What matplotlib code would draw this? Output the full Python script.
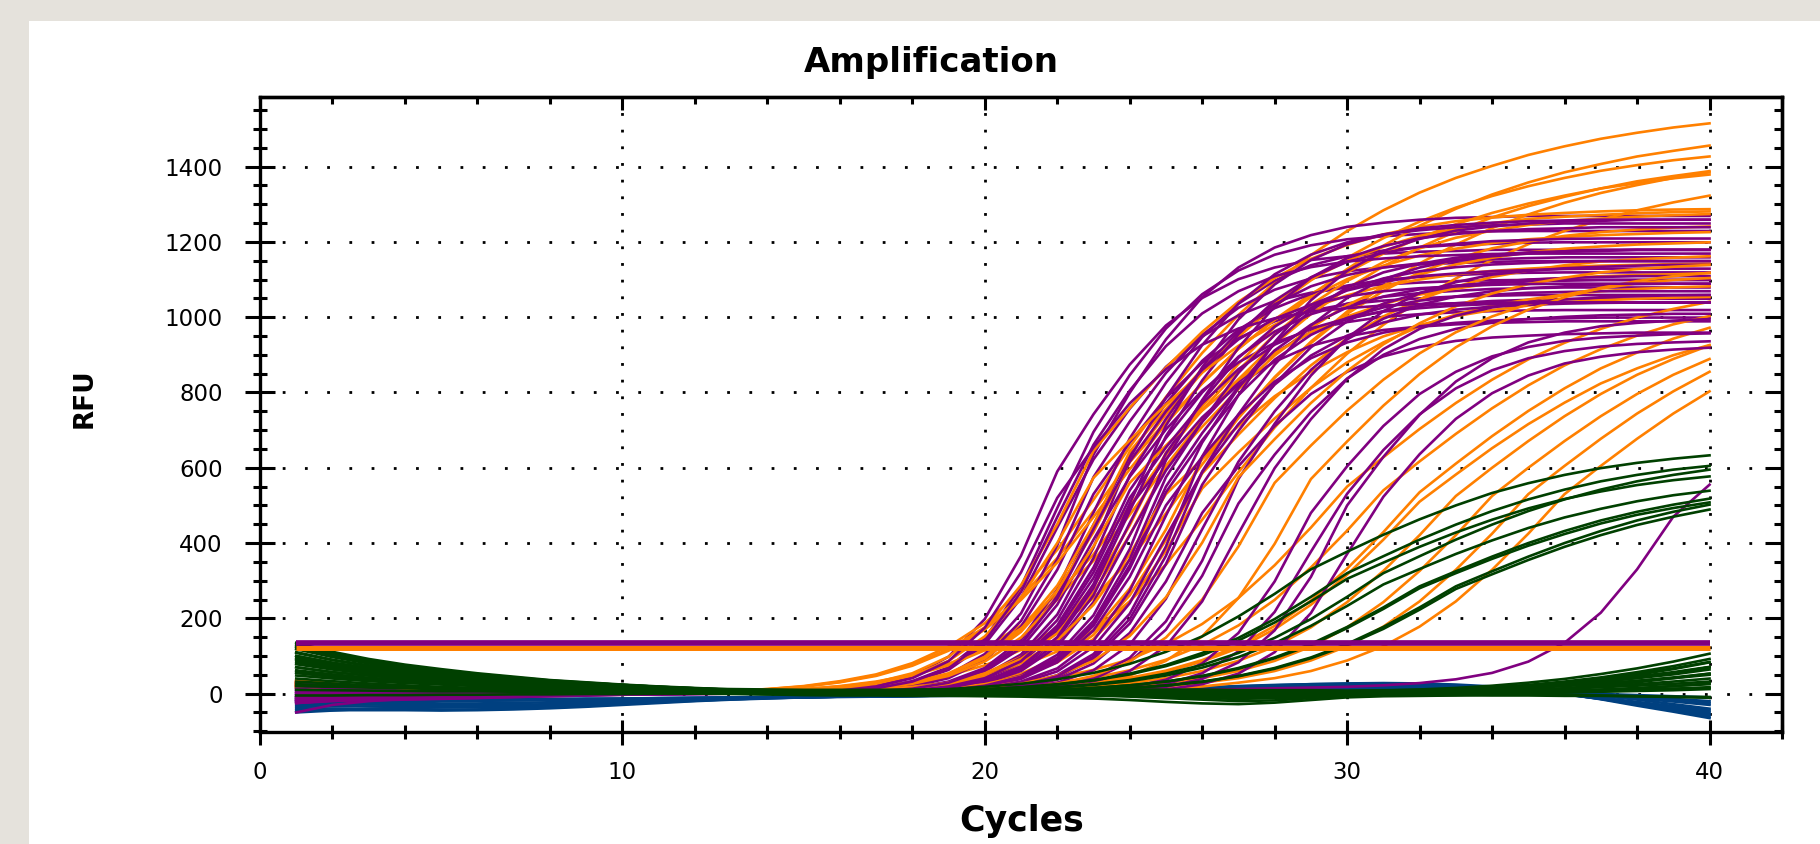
import matplotlib
matplotlib.use("Agg")
import matplotlib.pyplot as plt
from matplotlib.patches import Rectangle
from matplotlib.ticker import MultipleLocator, NullFormatter

plt.rcParams['font.family'] = ['DejaVu Sans']

# ---------------- data ----------------
cycles = list(range(1, 41))

threshold_purple = 135
threshold_orange = 121

purple_curves = [
    [15,10,7,4,2,0,0,0,0,0,0,0,0,2,5,9,21,46,98,198,366,590,742,874,978,1051,1101,1132,1152,1162,1169,1174,1176,1179,1179,1179,1179,1179,1179,1179],
    [-20,-14,-9,-5,-2,0,0,0,0,0,0,0,0,1,4,7,15,33,70,146,284,493,695,846,970,1061,1124,1166,1191,1207,1215,1221,1225,1228,1229,1229,1229,1229,1229,1229],
    [25,18,11,6,3,0,0,0,0,0,0,0,0,1,3,6,13,30,63,131,254,441,622,757,868,949,1005,1043,1065,1079,1087,1092,1096,1098,1099,1099,1099,1099,1099,1099],
    [-15,-14,-13,-12,-10,-8,-6,-4,-2,-1,0,0,0,0,3,5,10,23,50,105,213,394,635,799,941,1053,1132,1185,1218,1240,1251,1259,1264,1266,1269,1269,1269,1269,1269,1269],
    [5,3,2,1,0,0,0,0,0,0,0,0,0,0,2,4,8,19,41,88,178,329,530,667,785,879,944,989,1017,1035,1044,1050,1055,1057,1059,1059,1059,1059,1059,1059],
    [-10,-7,-4,-2,0,0,0,0,0,0,0,0,0,0,2,5,9,21,45,95,193,357,575,723,852,953,1025,1073,1103,1122,1133,1140,1144,1147,1149,1149,1149,1149,1149,1149],
    [30,21,13,7,3,0,0,0,0,0,0,0,0,0,1,4,7,14,32,68,143,277,481,678,826,947,1036,1097,1138,1162,1177,1186,1192,1195,1198,1199,1199,1199,1199,1199],
    [-18,-17,-16,-15,-13,-11,-9,-7,-5,-3,-2,-1,0,0,1,3,6,12,28,58,121,236,409,576,702,805,880,932,967,987,1001,1008,1013,1016,1018,1019,1019,1019,1019,1019],
    [0,0,0,0,0,0,0,0,0,0,0,0,0,0,1,3,6,13,30,64,133,259,449,633,771,884,967,1024,1062,1084,1099,1107,1112,1116,1118,1119,1119,1119,1119,1119],
    [-20,-19,-18,-16,-14,-12,-9,-7,-5,-3,-2,-1,0,0,0,3,5,10,23,49,104,210,388,625,786,926,1036,1114,1166,1199,1220,1231,1239,1244,1246,1249,1249,1249,1249,1249],
    [10,7,4,2,1,0,0,0,0,0,0,0,0,0,0,2,4,9,19,42,90,181,335,540,679,800,895,962,1008,1036,1054,1064,1070,1075,1077,1079,1079,1079,1079,1079],
    [-15,-10,-6,-3,-1,0,0,0,0,0,0,0,0,0,0,2,4,8,18,39,82,166,307,495,623,734,821,882,924,949,966,975,981,985,987,989,989,989,989,989],
    [20,14,9,5,2,0,0,0,0,0,0,0,0,0,0,2,5,9,21,45,96,195,360,580,730,860,962,1034,1082,1112,1132,1143,1150,1154,1157,1159,1159,1159,1159,1159],
    [-25,-18,-11,-6,-2,0,0,0,0,0,0,0,0,0,0,1,4,7,15,33,69,144,280,485,684,832,955,1044,1106,1147,1171,1187,1195,1202,1205,1208,1209,1209,1209,1209],
    [35,25,16,9,4,1,0,0,0,0,0,0,0,0,0,1,3,6,13,28,60,125,243,421,593,722,828,906,960,995,1016,1030,1037,1043,1046,1048,1049,1049,1049,1049],
    [-5,-3,-2,-1,0,0,0,0,0,0,0,0,0,0,0,1,3,6,14,31,64,134,261,453,638,777,892,975,1033,1071,1094,1109,1116,1122,1125,1128,1129,1129,1129,1129],
    [15,10,7,4,2,0,0,0,0,0,0,0,0,0,0,0,2,4,9,20,43,91,185,341,550,692,815,912,980,1026,1055,1074,1084,1090,1095,1097,1099,1099,1099,1099],
    [-10,-9,-9,-8,-7,-6,-5,-4,-3,-2,-1,0,0,0,0,0,2,5,10,22,48,103,208,384,620,780,919,1028,1105,1157,1189,1210,1221,1229,1234,1236,1239,1239,1239,1239],
    [5,3,2,1,0,0,0,0,0,0,0,0,0,0,0,0,2,4,8,18,39,83,168,310,500,629,741,829,891,933,959,976,985,991,995,997,999,999,999,999],
    [-50,-30,-20,-14,-10,-7,-5,-3,-2,-1,0,0,0,0,0,0,2,4,9,19,42,89,180,332,535,673,793,887,953,998,1026,1044,1054,1060,1065,1067,1069,1069,1069,1069],
    [10,7,4,2,1,0,0,0,0,0,0,0,0,0,0,0,1,4,6,14,32,67,140,273,473,667,812,931,1018,1079,1119,1142,1158,1166,1172,1175,1178,1179,1179,1179],
    [-20,-14,-9,-5,-2,0,0,0,0,0,0,0,0,0,0,0,1,3,6,12,28,59,124,240,417,588,716,821,898,951,986,1007,1020,1028,1033,1036,1038,1039,1039,1039],
    [25,18,11,6,3,0,0,0,0,0,0,0,0,0,0,0,0,2,4,9,20,43,92,186,344,555,698,823,920,989,1036,1064,1083,1093,1100,1104,1107,1109,1109,1109],
    [-10,-7,-4,-2,0,0,0,0,0,0,0,0,0,0,0,0,0,2,4,8,17,37,80,161,298,480,604,711,796,855,896,921,937,946,951,955,957,959,959,959],
    [0,0,0,0,0,0,0,0,0,0,0,0,0,0,0,0,0,3,5,10,23,49,105,212,391,630,793,934,1045,1123,1176,1208,1230,1241,1249,1254,1256,1259,1259,1259],
    [-5,-5,-5,-4,-4,-3,-3,-2,-2,-1,-1,0,0,0,0,0,0,1,3,6,13,29,62,130,252,437,616,750,860,941,996,1033,1055,1069,1077,1082,1086,1088,1089,1089],
    [15,10,7,4,2,0,0,0,0,0,0,0,0,0,0,0,0,0,2,5,9,21,44,95,192,353,570,717,845,945,1016,1064,1093,1113,1123,1130,1134,1137,1139,1139],
    [-12,-12,-11,-10,-9,-8,-6,-5,-4,-3,-2,-1,0,0,0,0,0,0,2,4,8,18,39,84,170,313,505,635,748,837,900,942,969,986,995,1001,1005,1007,1009,1009],
    [5,3,2,1,0,0,0,0,0,0,0,0,0,0,0,0,0,0,1,3,6,13,29,60,126,245,425,599,729,836,915,969,1004,1026,1040,1047,1053,1056,1058,1059],
    [-15,-10,-6,-3,-1,0,0,0,0,0,0,0,0,2,4,8,19,41,86,175,322,520,654,771,862,927,970,997,1015,1024,1031,1035,1037,1039,1039,1039,1039,1039,1039,1039],
    [0,0,0,0,0,0,0,0,0,0,0,0,0,0,0,1,4,7,15,34,72,150,291,505,712,867,994,1087,1152,1194,1219,1236,1245,1251,1255,1257,1259,1259,1259,1259],
    [-25,-18,-11,-6,-2,0,0,0,0,0,0,0,0,0,0,0,2,5,9,21,45,95,193,357,575,723,852,953,1025,1073,1103,1122,1133,1140,1144,1147,1149,1149,1149,1149],
    [20,14,9,5,2,0,0,0,0,0,0,0,0,0,1,3,6,13,29,62,130,252,437,616,750,860,941,996,1033,1055,1069,1077,1082,1086,1088,1089,1089,1089,1089,1089],
    [-5,-3,-2,-1,0,0,0,0,0,0,0,0,0,0,0,0,0,2,5,9,21,46,98,198,366,590,742,874,978,1051,1101,1132,1152,1162,1169,1174,1176,1179,1179,1179],
    [30,21,13,7,3,0,0,0,0,0,0,0,0,0,0,2,4,8,19,41,86,175,322,520,654,771,862,927,970,997,1015,1024,1031,1035,1037,1039,1039,1039,1039,1039],
    [-25,-20,-16,-13,-10,-8,-6,-4,-3,-2,-1,0,0,1,4,6,14,32,67,139,270,469,661,805,923,1010,1069,1109,1133,1148,1156,1162,1165,1168,1169,1169,1169,1169,1169,1169],
    [-10,-7,-4,-2,0,0,0,0,0,0,0,0,0,0,0,0,0,0,0,0,2,4,8,17,37,80,161,298,480,604,711,796,855,896,921,937,946,951,955,957],
    [10,7,4,2,1,0,0,0,0,0,0,0,0,0,0,0,0,0,0,0,1,3,5,11,25,54,112,217,377,531,647,742,811,859,891,910,922,929,933,936],
    [-20,-14,-9,-5,-2,0,0,0,0,0,0,0,0,0,0,0,0,0,0,0,0,2,4,8,18,39,83,168,310,500,629,741,829,891,933,959,976,985,991,995],
    [0,0,0,0,0,0,0,0,0,0,0,0,0,0,0,0,0,0,0,0,0,1,3,5,11,25,53,110,214,371,523,636,730,798,845,877,895,907,914,919],
    [-8,-7,-6,-5,-4,-3,-2,-2,-1,-1,0,0,0,0,0,0,0,0,0,0,2,3,4,6,8,10,12,14,16,18,22,28,38,55,85,135,215,330,470,555],
]

orange_curves = [
    [30,22,15,9,5,2,0,0,0,2,3,5,8,12,20,33,51,81,125,187,273,382,515,655,788,905,1006,1092,1165,1229,1284,1331,1370,1402,1431,1454,1474,1490,1504,1515],
    [25,18,12,7,4,2,0,0,0,0,2,3,5,8,12,20,32,50,79,121,181,264,370,498,634,763,876,974,1057,1128,1190,1243,1288,1326,1358,1385,1407,1427,1442,1456],
    [20,14,9,5,3,1,0,0,0,1,2,4,7,12,19,31,49,76,118,176,257,360,485,617,742,853,948,1029,1098,1158,1210,1254,1291,1322,1348,1370,1389,1404,1417,1427],
    [35,26,18,11,6,3,1,0,0,0,1,2,3,4,7,12,19,30,48,75,116,174,254,355,479,609,732,841,935,1015,1083,1143,1193,1237,1273,1304,1330,1351,1370,1385],
    [25,18,12,7,4,2,0,0,0,0,1,2,4,7,12,19,30,48,75,115,173,252,353,475,605,727,835,929,1008,1076,1135,1185,1228,1265,1295,1320,1342,1361,1375,1388],
    [20,14,9,5,3,1,0,0,0,0,1,2,2,3,4,7,11,18,29,46,73,112,168,245,343,462,588,707,812,903,980,1046,1103,1152,1194,1229,1259,1284,1305,1323],
    [30,22,15,9,5,2,0,0,0,1,2,4,7,11,18,30,47,74,114,170,249,348,469,596,717,824,916,994,1061,1119,1169,1211,1247,1277,1302,1323,1342,1356,1369,1379],
    [30,22,15,9,5,2,0,0,0,0,1,2,3,5,9,16,30,54,98,172,288,450,645,759,866,961,1041,1104,1155,1192,1220,1240,1255,1265,1272,1277,1281,1284,1286,1287],
    [15,10,7,4,2,0,0,0,0,0,1,1,2,3,5,9,16,30,54,98,171,287,448,643,756,862,957,1037,1100,1150,1187,1216,1235,1250,1261,1267,1272,1276,1279,1281],
    [35,26,18,11,6,3,1,0,0,0,1,2,2,2,3,5,9,16,29,54,97,170,285,447,640,753,859,954,1033,1096,1146,1183,1211,1230,1245,1256,1262,1267,1271,1274],
    [20,14,9,5,3,1,0,0,0,0,1,1,2,2,3,3,5,8,16,29,53,95,166,279,436,625,735,839,931,1009,1070,1119,1155,1183,1201,1216,1226,1233,1238,1241],
    [25,18,12,7,4,2,0,0,0,0,1,1,2,2,4,8,15,28,52,93,164,274,429,615,723,825,916,993,1053,1101,1137,1164,1182,1197,1207,1213,1218,1221,1224,1226],
    [30,22,15,9,5,2,0,0,0,0,1,1,2,2,2,4,8,15,28,51,92,160,269,421,603,709,809,898,972,1032,1078,1113,1140,1158,1172,1182,1188,1193,1196,1199],
    [20,14,9,5,3,1,0,0,0,0,1,1,2,2,2,2,4,8,15,27,49,89,156,261,408,585,688,785,872,944,1002,1047,1081,1107,1124,1138,1148,1154,1158,1162],
    [30,22,15,9,5,2,0,0,0,0,1,1,2,4,8,14,26,48,87,152,255,400,573,673,768,853,924,980,1024,1058,1083,1100,1114,1123,1129,1134,1137,1139,1141,1142],
    [25,18,12,7,4,2,0,0,0,0,1,1,2,2,4,8,14,26,47,85,149,250,391,560,659,752,834,904,960,1002,1035,1060,1076,1090,1099,1104,1109,1112,1114,1117],
    [20,14,9,5,3,1,0,0,0,0,1,1,2,2,2,4,7,13,24,45,81,141,236,370,530,623,711,790,855,907,949,979,1003,1019,1031,1040,1045,1049,1052,1054],
    [35,26,18,11,6,3,1,0,0,0,1,1,2,2,2,2,4,7,14,25,46,83,145,243,380,545,641,731,812,880,933,976,1007,1031,1047,1060,1069,1075,1079,1082],
    [25,18,12,7,4,2,0,0,0,0,1,1,2,2,2,4,6,9,13,20,30,43,63,91,131,185,254,341,441,550,628,703,772,834,888,932,969,999,1022,1041],
    [30,22,15,9,5,2,0,0,0,0,1,1,2,2,2,2,4,6,9,13,19,29,42,62,90,129,181,249,335,433,540,617,690,758,819,872,915,951,981,1003],
    [20,14,9,5,3,1,0,0,0,0,1,1,2,2,2,2,2,4,6,9,13,19,29,42,61,89,127,180,247,332,429,535,611,684,751,811,864,906,943,972],
    [35,26,18,11,6,3,1,0,0,0,1,1,2,2,2,2,2,4,6,8,12,18,28,40,58,85,121,171,236,316,409,510,582,652,716,773,824,864,899,926],
    [25,18,12,7,4,2,0,0,0,0,1,1,2,2,2,2,2,2,4,6,8,13,19,28,41,60,87,125,176,243,326,421,525,600,671,737,796,847,889,925],
    [15,10,7,4,2,0,0,0,0,0,1,1,2,2,2,2,2,2,2,4,6,8,13,19,28,41,60,87,125,176,243,326,421,525,600,671,737,796,847,889],
    [30,22,15,9,5,2,0,0,0,0,1,1,2,2,2,2,2,2,2,2,4,6,8,13,19,29,41,60,88,126,178,245,329,425,530,605,677,744,803,855],
    [20,14,9,5,3,1,0,0,0,0,1,1,2,2,2,2,2,2,2,2,2,4,6,8,13,19,29,41,60,88,126,178,245,329,425,530,605,677,744,803],
    [25,18,12,7,4,2,0,0,0,0,1,1,2,2,2,2,2,4,8,14,26,48,87,153,256,401,575,676,772,857,928,984,1029,1063,1088,1105,1119,1128,1134,1139],
    [30,22,15,9,5,2,0,0,0,0,1,1,2,2,2,2,2,2,4,8,14,26,47,85,149,250,391,560,659,752,834,904,960,1002,1035,1060,1076,1090,1099,1104],
    [20,14,9,5,3,1,0,0,0,0,1,1,2,2,2,2,2,2,2,4,8,14,26,48,87,152,254,398,570,670,765,849,920,976,1020,1053,1078,1096,1109,1118],
]

green_amp_curves = [
    [110,90,75,63,53,44,36,30,24,20,15,12,9,6,5,6,6,8,12,18,26,38,55,79,111,152,205,265,330,377,422,463,500,533,559,581,599,613,624,633],
    [90,74,61,51,43,36,30,24,20,16,13,10,7,5,3,4,5,6,8,12,17,25,36,53,76,108,148,198,257,320,365,409,449,485,516,542,564,581,595,605],
    [70,57,48,40,34,28,23,19,15,13,10,8,6,4,2,3,4,5,7,11,16,24,35,51,73,102,141,189,245,305,348,390,428,462,492,517,537,554,567,577],
    [125,103,85,71,60,50,41,34,28,23,18,14,10,6,4,3,2,4,5,8,12,17,25,36,53,76,108,148,198,257,320,365,409,449,485,516,542,564,581,595],
    [55,45,37,31,26,22,18,15,12,10,8,6,4,3,2,2,2,3,5,7,10,16,23,33,48,69,97,134,180,233,290,331,371,407,440,468,491,511,527,539],
    [100,82,68,57,48,40,33,27,22,18,14,11,8,5,3,2,2,2,3,5,7,10,15,22,32,47,68,96,132,177,229,285,325,364,400,432,460,483,502,518],
    [80,66,54,46,38,32,26,22,18,14,11,9,6,4,3,2,2,2,3,5,7,10,15,22,32,46,66,94,129,174,225,280,320,358,393,424,452,475,493,508],
    [60,49,41,34,29,24,20,16,13,11,8,7,5,3,2,2,2,2,2,3,5,7,10,15,22,32,47,68,96,132,177,229,285,325,364,400,432,460,483,502],
    [130,107,88,74,62,52,43,35,29,23,18,14,10,7,4,3,2,2,2,3,5,7,10,15,21,31,46,66,94,129,172,223,278,317,355,390,421,448,470,489],
]

green_base_curves = [
    [135,111,92,77,65,54,45,36,30,24,19,15,11,7,5,4,4,3,3,3,2,2,2,3,3,4,4,5,5,6,8,11,15,21,29,39,52,67,85,106],
    [125,103,85,71,60,50,41,34,28,23,18,14,10,6,4,3,2,2,1,1,1,0,0,0,1,1,2,2,2,2,4,7,10,16,23,32,43,57,73,92],
    [118,97,80,67,57,47,39,32,26,21,17,13,9,6,6,6,6,5,5,5,6,6,7,7,6,5,3,1,2,4,6,8,11,16,22,30,41,53,67,84],
    [108,89,73,62,52,43,36,29,24,19,15,12,9,5,3,2,1,0,0,-1,-2,-3,-5,-8,-12,-16,-20,-18,-12,-6,-1,2,4,9,15,22,31,42,55,70],
    [100,82,68,57,48,40,33,27,22,18,14,11,9,8,8,8,8,9,9,9,8,8,8,9,10,10,9,8,7,6,7,9,12,16,21,27,36,46,57,71],
    [92,75,63,52,44,37,30,25,20,16,12,9,5,1,-2,-3,-3,-4,-4,-4,-3,-3,-4,-6,-9,-12,-14,-12,-9,-6,-4,-2,0,4,8,14,22,30,41,53],
    [85,70,58,48,41,34,28,23,19,15,12,9,7,5,4,3,3,3,2,2,3,3,4,4,3,2,1,1,2,3,4,6,8,11,15,20,26,34,43,53],
    [78,64,53,45,38,32,27,23,20,17,15,13,12,11,10,10,10,11,11,12,12,12,11,11,10,10,9,9,9,8,9,10,12,14,18,22,27,34,41,50],
    [70,57,48,40,33,28,23,18,14,10,7,4,1,-2,-4,-5,-5,-6,-6,-7,-8,-10,-13,-17,-22,-26,-28,-24,-17,-10,-7,-6,-5,-3,0,4,8,13,20,27],
    [62,51,42,35,30,25,21,17,14,11,9,7,6,5,5,5,5,5,6,6,6,5,5,4,4,3,3,4,4,4,5,5,7,8,10,13,17,21,26,32],
    [55,45,37,31,26,22,18,15,12,9,7,5,3,2,1,0,0,-1,-1,-1,-2,-2,-3,-4,-6,-8,-9,-7,-5,-3,-3,-2,-1,0,2,4,6,9,13,17],
    [48,40,33,28,24,20,17,14,12,10,9,8,8,7,7,7,7,7,8,8,8,8,7,7,7,6,6,6,5,5,5,5,6,6,7,8,10,11,13,15],
    [40,33,27,22,18,15,12,9,6,4,2,0,-1,-2,-2,-2,-2,-2,-3,-3,-3,-3,-4,-6,-8,-10,-12,-10,-7,-4,-4,-4,-4,-5,-5,-6,-6,-7,-8,-9],
    [32,27,22,18,15,12,10,8,7,6,5,4,4,3,3,3,3,3,4,4,4,4,3,3,2,2,2,2,2,2,2,2,1,0,-1,-3,-5,-7,-9,-11],
    [120,99,82,68,58,48,40,32,26,21,16,12,9,6,5,4,4,4,3,3,3,4,4,4,5,5,5,4,4,4,5,7,9,13,18,24,32,41,51,64],
    [95,78,65,54,46,38,31,25,20,16,12,8,5,2,0,-1,-1,-1,-2,-2,-2,-3,-3,-4,-5,-6,-7,-6,-4,-2,0,2,6,11,18,26,37,50,65,83],
    [20,18,16,14,12,10,9,8,7,6,5,5,4,4,4,4,4,3,3,3,3,3,2,1,0,-2,-4,-3,-1,1,2,3,5,7,10,14,19,25,32,40],
    [10,9,8,7,6,6,5,5,4,4,3,3,3,2,2,2,2,2,2,1,1,1,0,-1,-3,-5,-7,-6,-4,-2,-1,0,1,3,5,8,11,15,20,25],
    [25,22,19,16,14,12,11,10,9,8,7,6,6,5,5,5,5,5,5,5,5,4,4,3,2,1,0,1,2,3,4,6,9,13,18,25,33,43,55,70],
    [-5,-5,-4,-4,-3,-3,-2,-2,-1,-1,0,0,0,1,1,1,1,1,1,1,0,0,-1,-2,-4,-6,-8,-7,-5,-3,-2,-1,0,1,2,3,5,7,9,12],
]

blue_curves = [
    [-20,-19,-19,-19,-19,-19,-18,-17,-16,-15,-14,-13,-12,-11,-10,-9,-8,-7,-6,-5,-4,-2,1,5,9,13,17,20,22,24,25,24,21,16,10,0,-15,-32,-48,-65],
    [-35,-34,-34,-35,-36,-36,-35,-33,-30,-26,-22,-18,-15,-12,-10,-8,-7,-6,-5,-4,-3,-1,2,5,8,11,14,16,18,19,20,19,17,13,8,-2,-14,-27,-41,-55],
    [-15,-14,-14,-15,-16,-17,-17,-16,-15,-14,-13,-12,-11,-10,-9,-8,-7,-6,-5,-4,-3,0,3,7,11,15,19,22,25,27,28,27,24,19,12,3,-6,-16,-28,-40],
    [-40,-40,-41,-42,-43,-42,-40,-37,-33,-28,-23,-19,-15,-12,-10,-8,-7,-6,-5,-4,-3,-2,0,3,6,9,11,13,14,15,15,14,12,9,5,0,-6,-13,-21,-30],
    [-25,-24,-24,-25,-26,-26,-25,-23,-21,-19,-17,-15,-13,-11,-9,-8,-7,-6,-5,-4,-3,-1,2,6,9,12,15,18,20,21,22,21,18,14,8,-2,-13,-25,-37,-50],
    [-45,-44,-44,-44,-45,-44,-42,-39,-35,-30,-25,-20,-16,-13,-10,-8,-7,-6,-5,-4,-3,-2,1,4,7,10,12,14,16,17,18,17,15,12,8,3,-2,-8,-14,-20],
    [-10,-10,-11,-12,-13,-14,-14,-14,-13,-13,-12,-11,-10,-9,-8,-7,-6,-5,-4,-3,-2,0,3,6,10,14,17,20,22,23,24,23,20,15,9,-1,-14,-29,-44,-60],
    [-30,-29,-29,-30,-31,-31,-30,-28,-25,-22,-19,-16,-13,-11,-9,-8,-7,-6,-5,-4,-3,-1,2,5,8,11,14,16,18,19,20,19,17,13,8,-1,-11,-22,-33,-45],
    [-18,-17,-17,-18,-18,-19,-18,-17,-16,-14,-12,-11,-10,-9,-8,-7,-6,-5,-4,-3,-2,1,4,8,12,16,20,23,25,26,26,25,22,17,11,4,-3,-10,-17,-25],
    [-50,-45,-40,-38,-37,-36,-34,-31,-28,-24,-20,-16,-13,-10,-8,-6,-5,-4,-4,-3,-3,-2,0,2,4,6,8,10,11,12,12,11,10,8,5,2,-1,-4,-7,-10],
]

# sanity check
for name, group in [("purple", purple_curves), ("orange", orange_curves),
                    ("green_amp", green_amp_curves), ("green_base", green_base_curves),
                    ("blue", blue_curves)]:
    for i, c in enumerate(group):
        if len(c) != len(cycles):
            raise ValueError(f"{name}[{i}] has {len(c)} values")

# ---------------- styling ----------------
PURPLE = '#800080'
ORANGE = '#FF8000'
GREEN = '#004000'
BLUE = '#004080'
LW = 1.9

W, H = 1820, 844
fig = plt.figure(figsize=(W / 100, H / 100), dpi=100, facecolor='#E5E2DC')
fig.add_artist(Rectangle((29 / W, 0), 1.0, 1 - 21 / H, transform=fig.transFigure,
                         facecolor='white', edgecolor='none', zorder=0))

ax = fig.add_axes([260 / W, (H - 732) / H, (1782 - 260) / W, (732 - 97) / H])
ax.set_facecolor('white')
ax.set_xlim(0, 42)
ax.set_ylim(-102, 1585)

# curves
for c in blue_curves:
    ax.plot(cycles, c, color=BLUE, lw=LW, zorder=2)
n = max(len(purple_curves), len(orange_curves))
for i in range(n):
    if i < len(purple_curves):
        ax.plot(cycles, purple_curves[i], color=PURPLE, lw=LW, zorder=2)
    if i < len(orange_curves):
        ax.plot(cycles, orange_curves[i], color=ORANGE, lw=LW, zorder=2)
for c in green_base_curves:
    ax.plot(cycles, c, color=GREEN, lw=LW, zorder=2)
for c in green_amp_curves:
    ax.plot(cycles, c, color=GREEN, lw=LW, zorder=2)

# thresholds
ax.hlines(threshold_purple, cycles[0], cycles[-1], colors=PURPLE, linewidth=4.1, zorder=5)
ax.hlines(threshold_orange, cycles[0], cycles[-1], colors=ORANGE, linewidth=3.6, zorder=5)

# ticks
ax.xaxis.set_major_locator(MultipleLocator(10))
ax.xaxis.set_minor_locator(MultipleLocator(2))
ax.yaxis.set_major_locator(MultipleLocator(200))
ax.yaxis.set_minor_locator(MultipleLocator(50))
ax.tick_params(axis='x', which='major', direction='inout', length=18, width=2.2,
               labelsize=16.5, pad=12, top=False, bottom=True)
ax.tick_params(axis='x', which='minor', direction='inout', length=9.5, width=2.2,
               top=False, bottom=True)
ax.tick_params(axis='y', which='major', direction='inout', length=21.5, width=2.2,
               labelsize=16.5, pad=16, right=False, left=True)
ax.tick_params(axis='y', which='minor', direction='inout', length=10, width=2.2,
               right=False, left=True)
for sp in ax.spines.values():
    sp.set_linewidth(2.4)

secx = ax.secondary_xaxis('top')
secx.xaxis.set_major_locator(MultipleLocator(10))
secx.xaxis.set_minor_locator(MultipleLocator(2))
secx.xaxis.set_major_formatter(NullFormatter())
secx.tick_params(axis='x', which='major', direction='in', length=9.5, width=2.2)
secx.tick_params(axis='x', which='minor', direction='in', length=5, width=2.2)
secx.spines['top'].set_linewidth(2.4)

secy = ax.secondary_yaxis('right')
secy.yaxis.set_major_locator(MultipleLocator(200))
secy.yaxis.set_minor_locator(MultipleLocator(50))
secy.yaxis.set_major_formatter(NullFormatter())
secy.tick_params(axis='y', which='major', direction='in', length=12, width=2.2)
secy.tick_params(axis='y', which='minor', direction='in', length=6, width=2.2)
secy.spines['right'].set_linewidth(2.4)

# dotted grid
ax.xaxis.grid(True, which='major', color='black', linewidth=2.0, linestyle=(0, (1, 5)))
ax.yaxis.grid(True, which='major', color='black', linewidth=2.0, linestyle=(0, (1, 7)))
ax.set_axisbelow(True)

# texts
fig.text(931 / W, 1 - 72 / H, 'Amplification', ha='center', va='baseline',
         fontsize=24.5, fontweight='bold')
fig.text(1022 / W, 1 - 831 / H, 'Cycles', ha='center', va='baseline',
         fontsize=25, fontweight='bold')
fig.text(85 / W, 1 - 398 / H, 'RFU', ha='center', va='center', rotation=90,
         fontsize=19, fontweight='bold')

fig.savefig('out.png', dpi=100, facecolor=fig.get_facecolor())
